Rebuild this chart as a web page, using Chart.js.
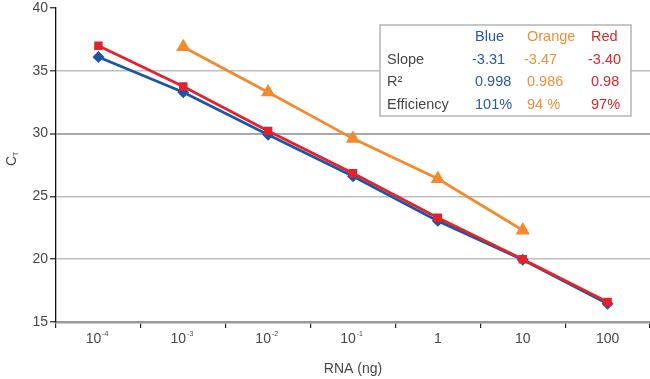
<!DOCTYPE html>
<html>
<head>
<meta charset="utf-8">
<script src="https://cdn.jsdelivr.net/npm/chart.js@4.4.1/dist/chart.umd.min.js"></script>
<style>
html,body{margin:0;padding:0;background:#fff;}
#wrap{position:relative;width:650px;height:379px;}
</style>
</head>
<body>
<div id="wrap"><canvas id="c" width="650" height="379"></canvas></div>
<script>
// ---- data ----
const categories = ['10^-4', '10^-3', '10^-2', '10^-1', '1', '10', '100'];
const blueValues   = [36.1, 33.3, 29.9, 26.6, 23.05, 19.95, 16.45];
const orangeValues = [null, 36.9, 33.3, 29.6, 26.4, 22.3, null];
const redValues    = [37.0, 33.75, 30.2, 26.85, 23.3, 20.0, 16.6];
const yTicks = [15, 20, 25, 30, 35, 40];
const tableHeader = ['Blue', 'Orange', 'Red'];
const tableRows = [
  ['Slope', '-3.31', '-3.47', '-3.40'],
  ['R²', '0.998', '0.986', '0.98'],
  ['Efficiency', '101%', '94 %', '97%']
];

const BLUE = '#1f55a3', ORANGE = '#f28a2e', RED = '#e4222b';
const TXT = '#474747';
const FONT = '"Liberation Sans", Arial, Helvetica, sans-serif';

const overlay = {
  id: 'overlay',
  afterDraw(chart) {
    const ctx = chart.ctx;
    const xs = chart.scales.x;
    ctx.save();
    ctx.fillStyle = TXT;
    ctx.textBaseline = 'middle';
    categories.forEach((lab, i) => {
      const cx = xs.getPixelForValue(i);
      const y = 339;
      const parts = lab.split('^');
      if (parts.length === 2) {
        ctx.font = '14px ' + FONT;
        ctx.textAlign = 'center';
        const bx = cx - 5;
        ctx.fillText(parts[0], bx, y);
        const w = ctx.measureText(parts[0]).width;
        ctx.font = '7px ' + FONT;
        ctx.textAlign = 'left';
        ctx.fillText(parts[1], bx + w / 2 + 1, y - 5);
      } else {
        ctx.font = '14px ' + FONT;
        ctx.textAlign = 'center';
        ctx.fillText(lab, cx, y);
      }
    });
    ctx.font = '14px ' + FONT;
    ctx.textAlign = 'center';
    ctx.fillText('RNA (ng)', 353, 369);
    ctx.save();
    ctx.translate(12, 159);
    ctx.rotate(-Math.PI / 2);
    ctx.font = '14px ' + FONT;
    ctx.textAlign = 'center';
    ctx.fillText('C', -2, 0);
    ctx.font = '7px ' + FONT;
    ctx.textAlign = 'left';
    ctx.fillText('T', 3, 4);
    ctx.restore();

    const bx = 380, by = 25, bw = 251, bh = 91;
    ctx.fillStyle = '#fff';
    ctx.fillRect(bx, by, bw, bh);
    ctx.strokeStyle = '#b4b4b4';
    ctx.lineWidth = 1.5;
    ctx.strokeRect(bx, by, bw, bh);
    const colX = [387, 475, 527, 591];
    const colC = [TXT, '#2a5aa0', '#ef8f3c', '#d8262e'];
    const rowY = [37, 60, 82, 105];
    ctx.font = '14.5px ' + FONT;
    ctx.textAlign = 'left';
    ctx.textBaseline = 'middle';
    tableHeader.forEach((h, j) => {
      ctx.fillStyle = colC[j + 1];
      ctx.fillText(h, colX[j + 1], rowY[0]);
    });
    tableRows.forEach((r, i) => {
      r.forEach((t, j) => {
        ctx.fillStyle = colC[j];
        ctx.fillText(t, colX[j] - (j > 0 && t[0] === '-' ? 3 : 0), rowY[i + 1]);
      });
    });
    ctx.restore();
  }
};

new Chart(document.getElementById('c'), {
  type: 'line',
  data: {
    labels: categories,
    datasets: [
      { label: 'Red', data: redValues, borderColor: RED, backgroundColor: RED,
        borderWidth: 2.8, pointStyle: 'rect', pointRadius: 4, order: 0 },
      { label: 'Blue', data: blueValues, borderColor: BLUE, backgroundColor: BLUE,
        borderWidth: 2.8, pointStyle: 'rectRot', pointRadius: 4, order: 1 },
      { label: 'Orange', data: orangeValues, borderColor: ORANGE, backgroundColor: ORANGE,
        borderWidth: 2.8, pointStyle: 'triangle', pointRadius: 5.5, order: 2 }
    ]
  },
  options: {
    responsive: false,
    animation: false,
    devicePixelRatio: 1,
    layout: { autoPadding: false, padding: { top: 8, right: 0, left: 0, bottom: 0 } },
    plugins: { legend: { display: false }, tooltip: { enabled: false } },
    elements: { line: { tension: 0 } },
    scales: {
      x: {
        type: 'category',
        offset: true,
        grid: { offset: true, drawOnChartArea: false, drawTicks: true, tickLength: 6, tickColor: '#222', lineWidth: 1.2 },
        border: { display: true, color: '#9a9a9a', width: 2.5 },
        ticks: { display: false },
        afterFit(s) { s.height = 57; s.paddingLeft = 0; s.paddingRight = 0; s.paddingTop = 0; s.paddingBottom = 0; }
      },
      y: {
        min: 15, max: 40,
        afterBuildTicks(s) { s.ticks = yTicks.map(v => ({ value: v })); },
        grid: {
          color: c => c.tick && c.tick.value === 40 ? 'rgba(0,0,0,0)' : (c.tick && (c.tick.value === 30) ? '#a8a8a8' : '#bdbdbd'),
          lineWidth: c => c.tick && c.tick.value === 30 ? 2 : 1.5,
          tickColor: '#222', tickLength: 6, tickWidth: 1.2
        },
        border: { display: true, color: '#111', width: 1.3 },
        ticks: { color: TXT, font: { family: FONT, size: 14 }, padding: 2 },
        afterFit(s) { s.width = 56; s.paddingLeft = 0; s.paddingRight = 0; s.paddingTop = 0; s.paddingBottom = 0; }
      }
    }
  },
  plugins: [overlay]
});
</script>
</body>
</html>
